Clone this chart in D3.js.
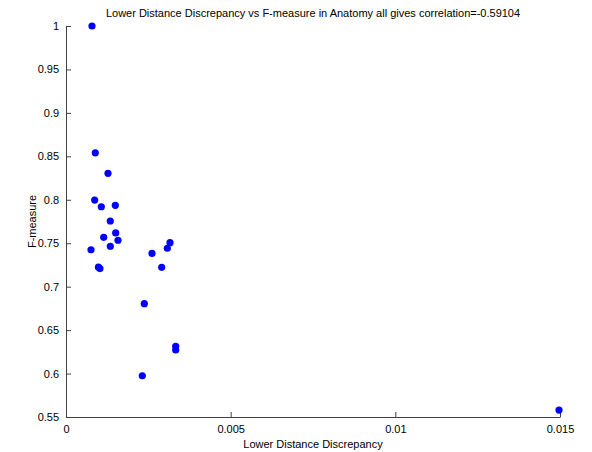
<!DOCTYPE html>
<html><head><meta charset="utf-8">
<script src="https://cdn.jsdelivr.net/npm/d3@7"></script>
<style>
html,body{margin:0;padding:0;background:#fff;}
svg{display:block;}
text{font-family:"Liberation Sans",Arial,Helvetica,sans-serif;}
</style></head>
<body>
<svg id="chart" width="592" height="452"></svg>
<script>
const titleText = "Lower Distance Discrepancy vs F-measure in Anatomy all gives correlation=-0.59104";
const xLabel = "Lower Distance Discrepancy";
const yLabel = "F-measure";
const xTicks = [0, 0.005, 0.01, 0.015];
const xTickLabels = ["0", "0.005", "0.01", "0.015"];
const yTicks = [0.55, 0.6, 0.65, 0.7, 0.75, 0.8, 0.85, 0.9, 0.95, 1];
const yTickLabels = ["0.55", "0.6", "0.65", "0.7", "0.75", "0.8", "0.85", "0.9", "0.95", "1"];
const lowerDistance = [0.000789, 0.000890, 0.001275, 0.000871, 0.001072, 0.001497, 0.001345,
  0.001509, 0.001145, 0.001579, 0.001345, 0.000759, 0.000985, 0.001030, 0.002611, 0.003158,
  0.003076, 0.002906, 0.002378, 0.003331, 0.003331, 0.002317, 0.01497];
const fMeasure = [1.0, 0.854, 0.8305, 0.7997, 0.792, 0.7936, 0.7756,
  0.7618, 0.7568, 0.7534, 0.7465, 0.7425, 0.7224, 0.7208, 0.7384, 0.7506,
  0.7442, 0.7223, 0.6804, 0.6314, 0.6271, 0.5975, 0.558];

const svg = d3.select("#chart");
const m = {left: 66, right: 32, top: 26, bottom: 35};
const W = 592, H = 452;
const x = d3.scaleLinear().domain([0, 0.015]).range([m.left, W - m.right]);
const y = d3.scaleLinear().domain([0.55, 1]).range([H - m.bottom, m.top]);
const axisColor = "#404040";

const xAxis = d3.axisBottom(x).tickValues(xTicks).tickFormat((d, i) => xTickLabels[i])
  .tickSizeInner(-5).tickSizeOuter(0).tickPadding(8);
const yAxis = d3.axisLeft(y).tickValues(yTicks).tickFormat((d, i) => yTickLabels[i])
  .tickSizeInner(-5).tickSizeOuter(0).tickPadding(8);

const gx = svg.append("g").attr("transform", `translate(0,${H - m.bottom})`).call(xAxis);
const gy = svg.append("g").attr("transform", `translate(${m.left},0)`).call(yAxis);
[gx, gy].forEach(g => {
  g.select(".domain").attr("stroke", axisColor);
  g.selectAll(".tick line").attr("stroke", axisColor);
  g.selectAll(".tick text").attr("fill", "#000").style("font-size", "11px")
    .style("font-family", "'Liberation Sans',Arial,sans-serif");
});
gy.selectAll(".tick text").attr("dx", "0.1em");

svg.append("g").selectAll("circle").data(lowerDistance).join("circle")
  .attr("cx", d => x(d))
  .attr("cy", (d, i) => y(fMeasure[i]))
  .attr("r", 3.6)
  .attr("fill", "#0000ff");

svg.append("text").attr("x", (m.left + W - m.right) / 2).attr("y", 17)
  .attr("text-anchor", "middle").style("font-size", "11px").text(titleText);
svg.append("text").attr("x", (m.left + W - m.right) / 2).attr("y", 448)
  .attr("text-anchor", "middle").style("font-size", "11px").text(xLabel);
svg.append("text").attr("transform", `translate(36,${(m.top + H - m.bottom) / 2}) rotate(-90)`)
  .attr("text-anchor", "middle").style("font-size", "11px").text(yLabel);
</script>
</body></html>
